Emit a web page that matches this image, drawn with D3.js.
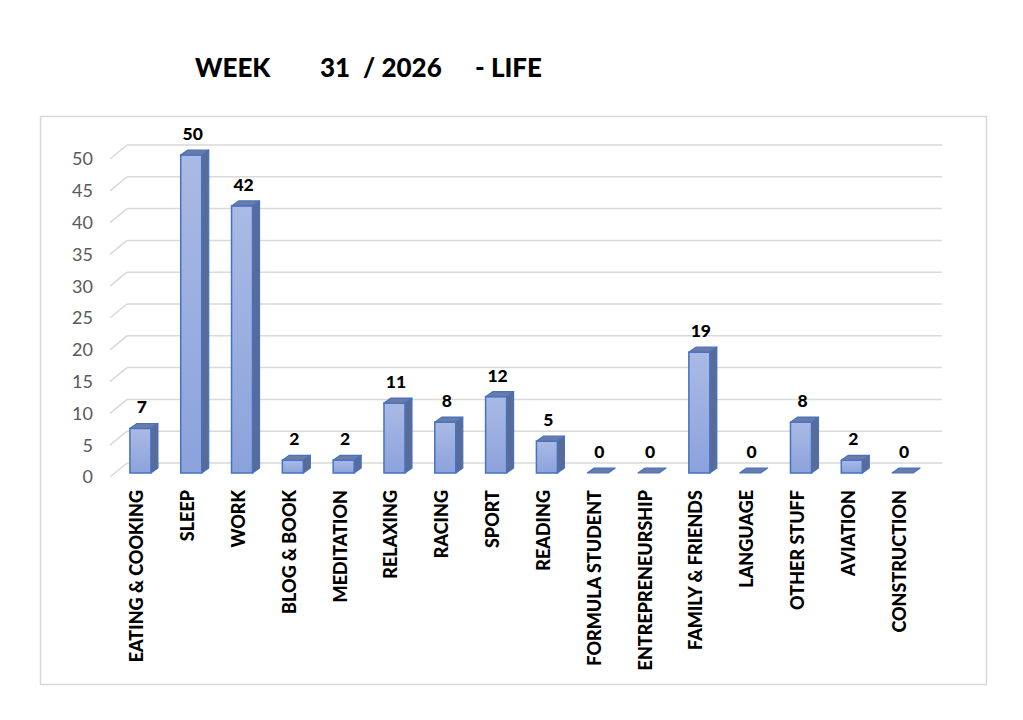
<!DOCTYPE html>
<html><head><meta charset="utf-8">
<script src="https://cdn.jsdelivr.net/npm/d3@7"></script>
<style>html,body{margin:0;padding:0;background:#fff;}svg{display:block;}</style>
</head><body>
<svg id="chart" width="1023" height="720"></svg>
<script>
const categories = ["EATING & COOKING","SLEEP","WORK","BLOG & BOOK","MEDITATION","RELAXING","RACING","SPORT","READING","FORMULA STUDENT","ENTREPRENEURSHIP","FAMILY & FRIENDS","LANGUAGE","OTHER STUFF","AVIATION","CONSTRUCTION"];
const values = [7,50,42,2,2,11,8,12,5,0,0,19,0,8,2,0];
const yTicks = [0,5,10,15,20,25,30,35,40,45,50];
const titleParts = ["WEEK","31","/ 2026","- LIFE"];

const svg = d3.select("#chart");
const FONT = "Lato, 'Open Sans', sans-serif";

// frame
svg.append("rect").attr("x",40.5).attr("y",116.5).attr("width",946).attr("height",568)
  .attr("fill","#fff").attr("stroke","#d9d9d9").attr("stroke-width",1.5);

// title
const title = svg.append("text").attr("y",77).attr("font-family",FONT).attr("font-weight",900)
  .attr("font-size",26).attr("fill","#000");
const titleX = [195,320,363,475];
titleParts.forEach((t,i)=>title.append("tspan").attr("x",titleX[i]).text(t));

// scales
const x = d3.scaleBand().domain(categories).range([115,928]).padding(0);
const yFront = d3.scaleLinear().domain([0,50]).range([477,159]);
const depthX = 17, depthY = 14;       // side-wall depth
const barInset = 4;                    // bar front plane behind wall front
const barW = 21, bdx = 7, bdy = 5;     // bar size & bar depth

// gridlines (back wall + side wall diagonals)
const grid = svg.append("g");
yTicks.forEach(v=>{
  const yf = yFront(v), yb = yf - depthY;
  grid.append("line").attr("x1",110).attr("y1",yf).attr("x2",110+depthX).attr("y2",yb)
    .attr("stroke","#d9d9d9").attr("stroke-width",1.5);
  grid.append("line").attr("x1",110+depthX).attr("y1",yb).attr("x2",942).attr("y2",yb)
    .attr("stroke","#d9d9d9").attr("stroke-width",1.5);
});

// y tick labels
svg.append("g").selectAll("text").data(yTicks).join("text")
  .attr("x",93).attr("y",d=>yFront(d)).attr("dy","0.35em").attr("text-anchor","end")
  .attr("font-family",FONT).attr("font-size",18).attr("fill","#595959").text(d=>d);

// gradient
const defs = svg.append("defs");
const grad = defs.append("linearGradient").attr("id","front").attr("x1",0).attr("y1",0).attr("x2",0).attr("y2",1);
grad.append("stop").attr("offset","0%").attr("stop-color","#aabae5");
grad.append("stop").attr("offset","100%").attr("stop-color","#8ca2db");

// bars
const bars = svg.append("g").selectAll("g").data(categories.map((c,i)=>({c,v:values[i]}))).join("g");
bars.each(function(d){
  const g = d3.select(this);
  const cx = x(d.c) + x.bandwidth()/2;
  const x0 = cx - barW/2, x1 = cx + barW/2;
  const yb = yFront(0) - barInset, yt = yFront(d.v) - barInset;
  if (d.v > 0) {
    // side
    g.append("path").attr("d",`M${x1},${yb}L${x1+bdx},${yb-bdy}L${x1+bdx},${yt-bdy}L${x1},${yt}Z`)
      .attr("fill","#5a6b95").attr("stroke","#4472c4").attr("stroke-width",1.2).attr("stroke-linejoin","round");
    // front
    g.append("rect").attr("x",x0).attr("y",yt).attr("width",barW).attr("height",yb-yt)
      .attr("fill","url(#front)").attr("stroke","#4472c4").attr("stroke-width",1.5);
  }
  // top
  g.append("path").attr("d",`M${x0},${yt}L${x1},${yt}L${x1+bdx},${yt-bdy}L${x0+bdx},${yt-bdy}Z`)
    .attr("fill","#6b7ba5").attr("stroke","#4472c4").attr("stroke-width",1.2).attr("stroke-linejoin","round");
  // value label
  g.append("text").attr("x",cx+1.5).attr("y",yt-15).attr("text-anchor","middle")
    .attr("font-family",FONT).attr("font-weight",900).attr("font-size",17.5).attr("fill","#000").text(d.v);
  // category label
  g.append("text").attr("transform",`translate(${cx+3},490) rotate(-90)`).attr("text-anchor","end")
    .attr("font-family",FONT).attr("font-weight",900).attr("font-size",18).attr("fill","#000").text(d.c);
});
</script>
</body></html>
